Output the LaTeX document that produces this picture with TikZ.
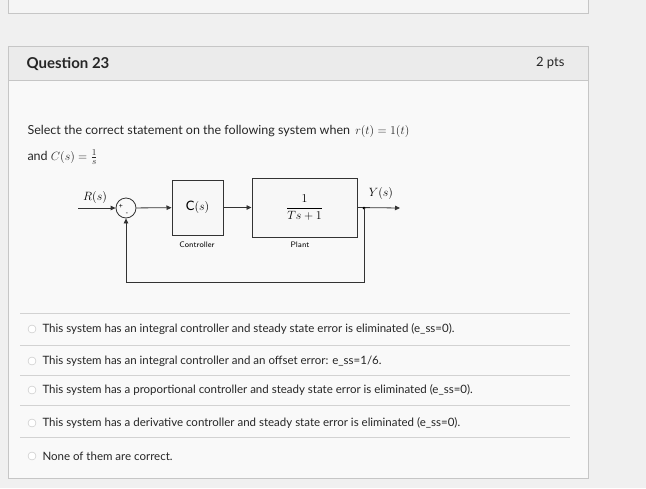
\documentclass[tikz,border=0pt]{standalone}
\usepackage{amsmath}
\usepackage{fontspec}
\setmainfont{Lato}
\usetikzlibrary{arrows.meta}
\begin{document}
\begin{tikzpicture}[x=1pt,y=-1pt,
  blk/.style={draw=black!80,line width=1pt,fill=gray!6},
  sig/.style={draw=black!80,line width=0.8pt,-{Triangle[length=5pt,width=4.5pt]}},
  opt/.style={anchor=west,font=\fontsize{11.5}{13}\selectfont,text=black!85},
  radio/.style={circle,draw=gray!50,fill=white,minimum size=8pt,inner sep=0pt},
  sepl/.style={draw=gray!35,line width=0.6pt}]
\useasboundingbox (0,0) rectangle (646,488);
\fill[gray!12] (0,0) rectangle (646,488);
\draw[gray!45,fill=gray!8] (8,-2) rectangle (588,13);
\draw[gray!45,fill=gray!5] (8,46) rectangle (588,478);
\draw[gray!45,fill=gray!16] (8,46) rectangle (588,80);
\node[anchor=west,font=\fontsize{15}{17}\selectfont\bfseries,text=black!85] (q) at (23,64) {Question 23};
\node[anchor=east,font=\fontsize{13}{15}\selectfont,text=black!85] (pts) at (568,63) {2 pts};
\node[anchor=west,font=\fontsize{12.5}{15}\selectfont,text=black!85] (t1) at (24,131) {Select the correct statement on the following system when \,$r(t)=1(t)$};
\node[anchor=west,font=\fontsize{12.5}{15}\selectfont,text=black!85] (t2) at (24,157) {and $C(s)=\frac{1}{s}$};
% diagram
\node[circle,draw=black!80,line width=0.8pt,minimum size=20pt,inner sep=0pt] (sum) at (126,208) {};
\node[font=\scriptsize] at (121,206) {+};
\node[font=\scriptsize] at (127,214) {-};
\coordinate (in) at (78,208);
\node[font=\fontsize{12}{13}\selectfont] (R) at (95,197) {$R(s)$};
\node[blk,minimum width=51pt,minimum height=55pt,font=\fontsize{13}{15}\selectfont] (C) at (197.5,207.5) {C$(s)$};
\node[blk,minimum width=105pt,minimum height=59pt,font=\fontsize{13}{15}\selectfont] (P) at (304.5,207.5) {$\dfrac{1}{Ts+1}$};
\node[font=\fontsize{8}{9}\selectfont\sffamily] (cl) at (197,245) {Controller};
\node[font=\fontsize{8}{9}\selectfont\sffamily] (pl) at (300,245) {Plant};
\coordinate (br) at (364,208);
\coordinate (out) at (400,208);
\node[font=\fontsize{12}{13}\selectfont] (Y) at (381,193) {$Y(s)$};
\draw[sig] (in) -- (sum);
\draw[sig] (sum) -- (C);
\draw[sig] (C) -- (P);
\draw[sig] (P.east) -- (out);
\fill (br) circle (1.5pt);
\draw[sig] (br) -- (364,282) -- (126,282) -- (sum.south);
% options
\foreach \y in {313,345,375,405,437} \draw[sepl] (20,\y) -- (570,\y);
\foreach \y/\t [count=\i] in {
 329/{This system has an integral controller and steady state error is eliminated (e\_ss=0).},
 361/{This system has an integral controller and an offset error: e\_ss=1/6.},
 390/{This system has a proportional controller and steady state error is eliminated (e\_ss=0).},
 423/{This system has a derivative controller and steady state error is eliminated (e\_ss=0).},
 456/{None of them are correct.}}{
 \node[radio] (r\i) at (32,\y) {};
 \node[opt] (o\i) at (39,\y) {\t};
}
\end{tikzpicture}
\end{document}
